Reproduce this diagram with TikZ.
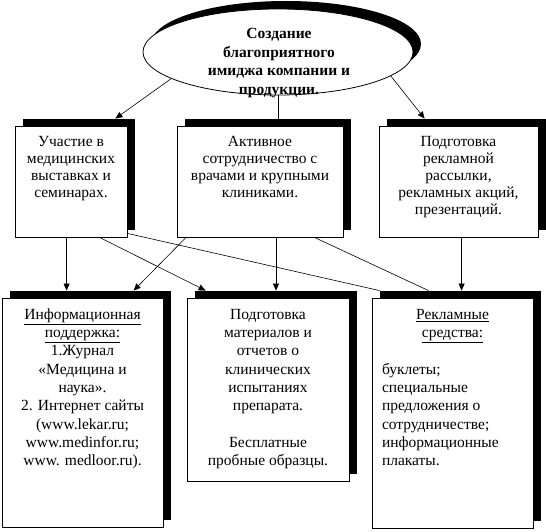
\documentclass[tikz,border=0pt]{standalone}
\usepackage{fontspec}
\setmainfont{Liberation Serif}
\usepackage{tikz}
\usetikzlibrary{shapes.geometric,arrows.meta,shadows,calc}

\newcommand{\cellbox}[3]{\parbox[c][#2][t]{#1}{\centering\vspace*{8pt}\strut#3}}

\begin{document}
\begin{tikzpicture}[x=1pt, y=1pt,
  goal/.style={draw, ellipse, fill=white, line width=0.8pt,
               minimum width=270pt, minimum height=86pt,
               drop shadow={shadow xshift=8pt, shadow yshift=8pt,
                            fill=black, opacity=1}},
  goaltxt/.style={align=center, font=\fontsize{15.5}{18.5}\selectfont\bfseries},
  blk/.style={draw, fill=white, line width=0.8pt, inner sep=0pt,
              drop shadow={shadow xshift=7.5pt, shadow yshift=7.5pt,
                           fill=black, opacity=1}},
  toprow/.style={blk, font=\fontsize{15.5}{17}\selectfont},
  lowrow/.style={blk, font=\fontsize{15.5}{18.3}\selectfont},
  conn/.style={line width=0.6pt},
  arr/.style={conn, -{Triangle[length=7pt, width=6pt]}}
]
\useasboundingbox (0,0) rectangle (546,531);

%% Goal
\node[goal] (goal) at (278,479) {};
\node[goaltxt] (goaltxt) at (279,468)
  {Создание\\благоприятного\\имиджа компании и\\продукции.};

%% Directions
\node[toprow] (b1) at (71,349)
  {\cellbox{112pt}{111pt}{Участие в\\медицинских\\выставках и\\семинарах.}};
\node[toprow] (b2) at (260,349)
  {\cellbox{166pt}{111pt}{Активное\\сотрудничество с\\врачами и крупными\\клиниками.}};
\node[toprow] (b3) at (458.5,349)
  {\cellbox{159pt}{111pt}{Подготовка\\рекламной\\рассылки,\\рекламных акций,\\презентаций.}};

%% Tools
\node[lowrow] (b4) at (82.5,118)
  {\cellbox{161pt}{229pt}{\underline{Информационная}\\\underline{поддержка:}\\1.Журнал\\«Медицина и\\наука».\\2. Интернет сайты\\(www.lekar.ru;\\www.medinfor.ru;\\www. medloor.ru).}};
\node[lowrow] (b5) at (268,141)
  {\cellbox{162pt}{183pt}{Подготовка\\материалов и\\отчетов о\\клинических\\испытаниях\\препарата.\\[18.3pt]Бесплатные\\пробные образцы.}};
\node[lowrow] (b6) at (452.5,117.5)
  {\cellbox{161pt}{230pt}{\underline{Рекламные}\\\underline{средства:}\par\vspace{18.3pt}%
   \raggedright\leftskip=10pt буклеты;\\специальные\\предложения о\\сотрудничестве;\\информационные\\плакаты.}};

%% Goal to directions
\draw[arr] (goal.194) -- ($(b1.north east)+(-12,7.5)$);
\draw[conn] (goal.south) -- ($(goal.south |- b2.north)+(0,7.5)$);
\draw[arr] (goal.348) -- ($(b3.north west)+(46,7.5)$);

%% Directions to tools
\draw[arr] ($(b1.south west)+(52,0)$) -- ($(b4.north west)+(65,7.5)$);
\draw[arr] ($(b1.south west)+(86,0)$) -- ($(b5.north west)+(19,7.5)$);
\draw[conn] ($(b1.south east)+(0,4.5)$) -- ($(b6.north west)+(8,7.5)$);
\draw[arr] ($(b2.south west)+(9,0)$) -- ($(b4.north west)+(132,7.5)$);
\draw[arr] ($(b2.south)+(16,0)$) -- ($(b5.north)+(8,7.5)$);
\draw[conn] ($(b2.south east)+(-28,0)$) -- ($(b6.north west)+(57,7.5)$);
\draw[arr] ($(b3.south west)+(83,0)$) -- ($(b6.north west)+(90,7.5)$);

\end{tikzpicture}
\end{document}
